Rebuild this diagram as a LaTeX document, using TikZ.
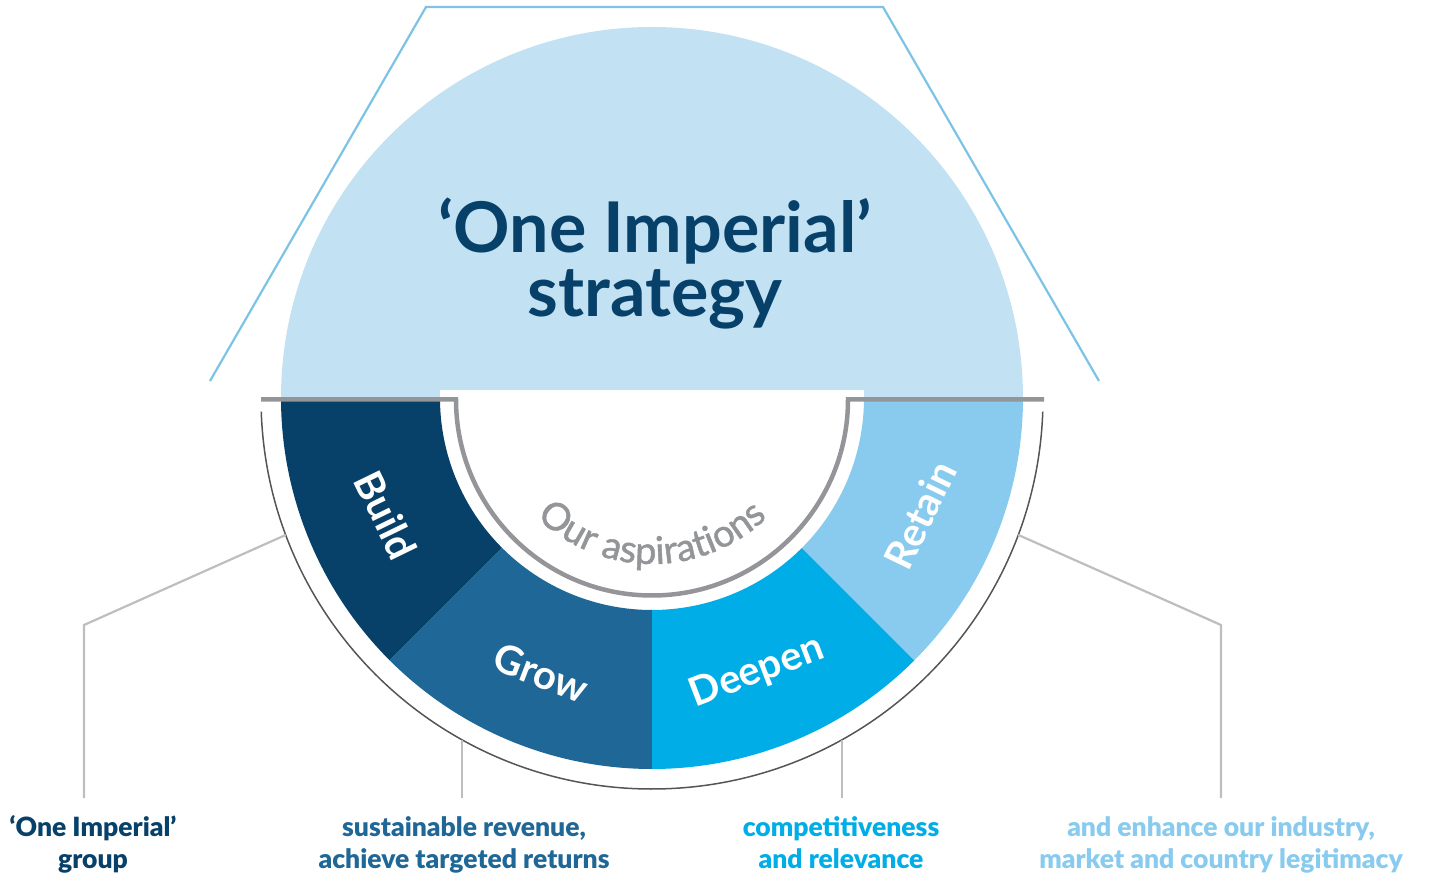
\documentclass[tikz,border=0pt]{standalone}
\usepackage{fontspec}
\setmainfont{Lato}
\newfontfamily\latoblack{Lato Black}
\newfontfamily\latomed{Lato}[FakeBold=1.3]
\usetikzlibrary{decorations.text}
\definecolor{navy}{HTML}{07416A}
\definecolor{growc}{HTML}{1F6796}
\definecolor{deepc}{HTML}{00ADE6}
\definecolor{retc}{HTML}{88CBEE}
\definecolor{topc}{HTML}{C2E2F4}
\definecolor{greyln}{HTML}{939598}
\definecolor{connc}{HTML}{BCBEC0}
\definecolor{trapc}{HTML}{7DC3E6}
\definecolor{arcc}{HTML}{555555}
\tikzset{
  trapline/.style={draw=trapc, line width=2.2pt, line join=miter},
  connline/.style={draw=connc, line width=2.2pt},
  titletext/.style={text=navy, font=\bfseries\fontsize{70}{70}\selectfont, inner sep=0pt},
  segtext/.style={text=white, font=\bfseries\fontsize{40}{40}\selectfont, inner sep=0pt},
  bottomtext/.style={font=\latoblack\fontsize{26.5}{32}\selectfont, align=center, inner sep=0pt},
}
\begin{document}
\begin{tikzpicture}[x=1pt,y=1pt]
\useasboundingbox (0,0) rectangle (1446,892);
\coordinate (C) at (652,494);
% trapezoid outline
\coordinate (tA) at (210,511);
\coordinate (tB) at (426,885);
\coordinate (tC) at (883,885);
\coordinate (tD) at (1099,511);
\draw[trapline] (tA) -- (tB) -- (tC) -- (tD);
% upper half disk
\fill[topc] ([shift={(180:371)}]C) arc[start angle=180,end angle=0,radius=371] -- cycle;
% ring sectors
\fill[navy] ([shift={(180:371)}]C) arc[start angle=180,end angle=225,radius=371]
  -- ([shift={(225:212)}]C) arc[start angle=225,end angle=180,radius=212] -- cycle;
\fill[growc] ([shift={(225:371)}]C) arc[start angle=225,end angle=270,radius=371]
  -- ([shift={(270:212)}]C) arc[start angle=270,end angle=225,radius=212] -- cycle;
\fill[deepc] ([shift={(270:371)}]C) arc[start angle=270,end angle=315,radius=371]
  -- ([shift={(315:212)}]C) arc[start angle=315,end angle=270,radius=212] -- cycle;
\fill[retc] ([shift={(315:371)}]C) arc[start angle=315,end angle=360,radius=371]
  -- ([shift={(360:212)}]C) arc[start angle=360,end angle=315,radius=212] -- cycle;
% white cut-out strip
\fill[white] (440,494) rectangle (864,502);
% grey line with inner arc
\draw[greyln, line width=4.5pt] (261,492.5) -- (456,492.5)
  arc[start angle=180,end angle=360,radius=196] -- (1044,492.5);
% thin outer arc
\draw[arcc, line width=1.5pt] ([shift={(182:391)}]C) arc[start angle=182,end angle=358,radius=391];
% connector anchor points
\coordinate (a1) at ([shift={(200.5:391)}]C);
\coordinate (b1) at (84,267);
\coordinate (e1) at (84,94);
\coordinate (a2) at (462,152.3);
\coordinate (e2) at (462,94);
\coordinate (a3) at (842,152.3);
\coordinate (e3) at (842,94);
\coordinate (a4) at ([shift={(339.5:391)}]C);
\coordinate (b4) at (1221,267);
\coordinate (e4) at (1221,94);
\draw[connline] (a1) -- (b1) -- (e1);
\draw[connline] (a2) -- (e2);
\draw[connline] (a3) -- (e3);
\draw[connline] (a4) -- (b4) -- (e4);
% title
\node[titletext, anchor=base] (title1) at (655,639) {‘One Imperial’};
\node[titletext, anchor=base] (title2) at (655,575) {strategy};
% segment labels
\node[segtext, rotate=-64] (build) at (386,377) {Build};
\node[segtext, rotate=-21] (grow) at (541,219) {Grow};
\node[segtext, rotate=21] (deepen) at (757,220) {Deepen};
\node[segtext, rotate=64] (retain) at (920,377) {Retain};
% our aspirations
\path[decorate, decoration={text along path, text align=center,
  text={|\latomed\fontsize{38}{38}\selectfont\color{greyln}|Our aspirations}}]
  ([shift={(200:166)}]C) arc[start angle=200,end angle=340,radius=166];
% bottom labels
\node[bottomtext, text=navy, anchor=base] (l1) at (93,24) {‘One Imperial’\\group};
\node[bottomtext, text=growc, anchor=base] (l2) at (464,24) {sustainable revenue,\\achieve targeted returns};
\node[bottomtext, text=deepc, anchor=base] (l3) at (841,24) {competitiveness\\and relevance};
\node[bottomtext, text=retc, anchor=base] (l4) at (1221,24) {and enhance our industry,\\market and country legitimacy};
\end{tikzpicture}
\end{document}
